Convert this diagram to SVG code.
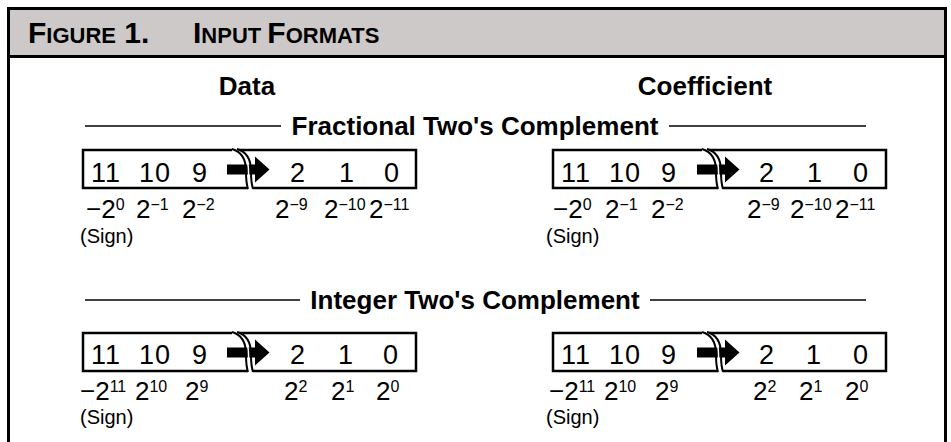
<svg xmlns="http://www.w3.org/2000/svg" xmlns:xlink="http://www.w3.org/1999/xlink" width="951" height="442" viewBox="0 0 951 442">
<style>
text{font-family:"Liberation Sans",Arial,Helvetica,sans-serif;fill:#000}
.hdr{font-weight:bold}
.lbl{font-weight:bold;font-size:26px}
.dig{font-size:27px;text-anchor:middle;letter-spacing:1px}
.pw{font-size:26px}
.sup{font-size:16px}
.sign{font-size:20px}
.rule{stroke:#000;stroke-width:1.5;fill:none}
.bx{fill:none;stroke:#000;stroke-width:2.5;stroke-linejoin:miter}
.gap{fill:none;stroke:#fff;stroke-width:1.5}
.arc{fill:none;stroke:#000;stroke-width:2}
</style>
<defs>
<g id="register">
<path class="bx" d="M248,188 H83 V150 H232"/>
<path class="bx" d="M237,150 H416 V188 H253"/>
<path d="M227,164.5 H255 V156.5 L269.5,169.5 L255,182.5 V174.5 H227 Z" fill="#000"/>
<path class="gap" d="M234.5,149 Q248.5,153 248.5,171 Q248.5,183 250.5,189"/>
<path class="arc" d="M232,149 Q246,153 246,171 Q246,183 248,189"/>
<path class="arc" d="M237,149 Q251,153 251,171 Q251,183 253,189"/>
</g>
</defs>
<g id="frame">
<rect x="8.5" y="8.5" width="937" height="48" fill="#CDC9C8"/>
<rect x="8.5" y="8.5" width="937" height="460" fill="none" stroke="#000" stroke-width="3"/>
<line x1="8.5" y1="56.5" x2="945.5" y2="56.5" stroke="#000" stroke-width="3"/>
<text class="hdr" x="28" y="43"><tspan font-size="30">F</tspan><tspan font-size="22">IGURE</tspan><tspan font-size="30"> 1.</tspan><tspan x="193" font-size="30">I</tspan><tspan font-size="22">NPUT </tspan><tspan font-size="30">F</tspan><tspan font-size="22">ORMATS</tspan></text>
</g>
<g id="headings">
<text class="lbl" x="247" y="95" text-anchor="middle">Data</text>
<text class="lbl" x="705" y="95" text-anchor="middle">Coefficient</text>
</g>
<g id="connectors">
<line class="rule" x1="85" y1="126" x2="281" y2="126"/>
<line class="rule" x1="669" y1="126" x2="866" y2="126"/>
<line class="rule" x1="85" y1="300" x2="300" y2="300"/>
<line class="rule" x1="650" y1="300" x2="866" y2="300"/>
</g>
<g id="title-fractional">
<text class="lbl" x="475" y="135" text-anchor="middle">Fractional Two's Complement</text>
</g>
<g id="title-integer">
<text class="lbl" x="475" y="309" text-anchor="middle">Integer Two's Complement</text>
</g>
<g id="data-fractional">
<use xlink:href="#register"/>
<text class="dig" y="182"><tspan x="106">11</tspan><tspan x="155">10</tspan><tspan x="200">9</tspan><tspan x="298">2</tspan><tspan x="347">1</tspan><tspan x="392">0</tspan></text>
<text class="pw" x="86" y="218">−2<tspan class="sup" dy="-8">0</tspan></text>
<text class="pw" x="136" y="218">2<tspan class="sup" dy="-8">−1</tspan></text>
<text class="pw" x="182" y="218">2<tspan class="sup" dy="-8">−2</tspan></text>
<text class="pw" x="275" y="218">2<tspan class="sup" dy="-8">−9</tspan></text>
<text class="pw" x="324" y="218">2<tspan class="sup" dy="-8">−10</tspan></text>
<text class="pw" x="369" y="218">2<tspan class="sup" dy="-8">−11</tspan></text>
<text class="sign" x="80" y="243">(Sign)</text>
</g>
<g id="coefficient-fractional">
<use xlink:href="#register" transform="translate(470,0)"/>
<text class="dig" y="182"><tspan x="576">11</tspan><tspan x="625">10</tspan><tspan x="669">9</tspan><tspan x="767">2</tspan><tspan x="815">1</tspan><tspan x="861">0</tspan></text>
<text class="pw" x="553" y="218">−2<tspan class="sup" dy="-8">0</tspan></text>
<text class="pw" x="605" y="218">2<tspan class="sup" dy="-8">−1</tspan></text>
<text class="pw" x="651" y="218">2<tspan class="sup" dy="-8">−2</tspan></text>
<text class="pw" x="747" y="218">2<tspan class="sup" dy="-8">−9</tspan></text>
<text class="pw" x="790" y="218">2<tspan class="sup" dy="-8">−10</tspan></text>
<text class="pw" x="835" y="218">2<tspan class="sup" dy="-8">−11</tspan></text>
<text class="sign" x="546" y="243">(Sign)</text>
</g>
<g id="data-integer">
<use xlink:href="#register" transform="translate(0,183)"/>
<text class="dig" y="364"><tspan x="106">11</tspan><tspan x="155">10</tspan><tspan x="200">9</tspan><tspan x="298">2</tspan><tspan x="346">1</tspan><tspan x="391">0</tspan></text>
<text class="pw" x="80" y="400">−2<tspan class="sup" dy="-8">11</tspan></text>
<text class="pw" x="135" y="400">2<tspan class="sup" dy="-8">10</tspan></text>
<text class="pw" x="185" y="400">2<tspan class="sup" dy="-8">9</tspan></text>
<text class="pw" x="284" y="400">2<tspan class="sup" dy="-8">2</tspan></text>
<text class="pw" x="331" y="400">2<tspan class="sup" dy="-8">1</tspan></text>
<text class="pw" x="376" y="400">2<tspan class="sup" dy="-8">0</tspan></text>
<text class="sign" x="80" y="424">(Sign)</text>
</g>
<g id="coefficient-integer">
<use xlink:href="#register" transform="translate(470,183)"/>
<text class="dig" y="364"><tspan x="576">11</tspan><tspan x="625">10</tspan><tspan x="669">9</tspan><tspan x="767">2</tspan><tspan x="814">1</tspan><tspan x="861">0</tspan></text>
<text class="pw" x="549" y="400">−2<tspan class="sup" dy="-8">11</tspan></text>
<text class="pw" x="604" y="400">2<tspan class="sup" dy="-8">10</tspan></text>
<text class="pw" x="655" y="400">2<tspan class="sup" dy="-8">9</tspan></text>
<text class="pw" x="753" y="400">2<tspan class="sup" dy="-8">2</tspan></text>
<text class="pw" x="799" y="400">2<tspan class="sup" dy="-8">1</tspan></text>
<text class="pw" x="845" y="400">2<tspan class="sup" dy="-8">0</tspan></text>
<text class="sign" x="546" y="424">(Sign)</text>
</g>
</svg>
